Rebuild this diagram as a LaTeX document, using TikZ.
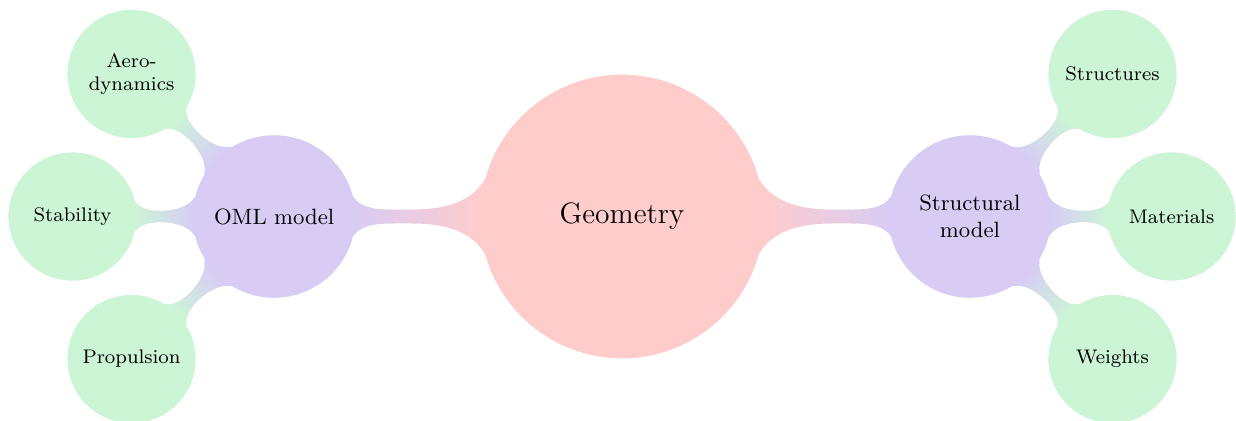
\documentclass[tikz,border=0pt]{standalone}
\usetikzlibrary{mindmap}
\definecolor{rootc}{RGB}{255,204,204}
\definecolor{midc}{RGB}{216,204,245}
\definecolor{leafc}{RGB}{204,245,214}
\begin{document}
\begin{tikzpicture}[mindmap, concept color=rootc,
  every node/.style={concept, inner sep=0pt, align=center},
  root concept/.append style={minimum size=4.01cm, text width=3.5cm, font=\large},
  level 1 concept/.append style={level distance=4.97cm, minimum size=2.28cm, text width=2cm, font=\small},
  level 2 concept/.append style={level distance=2.88cm, minimum size=1.79cm, text width=1.5cm, font=\footnotesize}]
  \useasboundingbox (-8.886,-2.907) rectangle (8.771,3.093);
  \node[root concept] (geo) {Geometry}
    child[grow=180, concept color=midc] { node[concept] (oml) {OML model}
      child[grow=135, concept color=leafc] { node[concept] (aero) {Aero-\\dynamics} }
      child[grow=180, concept color=leafc] { node[concept] (stab) {Stability} }
      child[grow=225, concept color=leafc] { node[concept] (prop) {Propulsion} }
    }
    child[grow=0, concept color=midc] { node[concept] (struct) {Structural\\model}
      child[grow=45, concept color=leafc] { node[concept] (strs) {Structures} }
      child[grow=0, concept color=leafc] { node[concept] (mat) {Materials} }
      child[grow=-45, concept color=leafc] { node[concept] (wgt) {Weights} }
    };
\end{tikzpicture}
\end{document}
